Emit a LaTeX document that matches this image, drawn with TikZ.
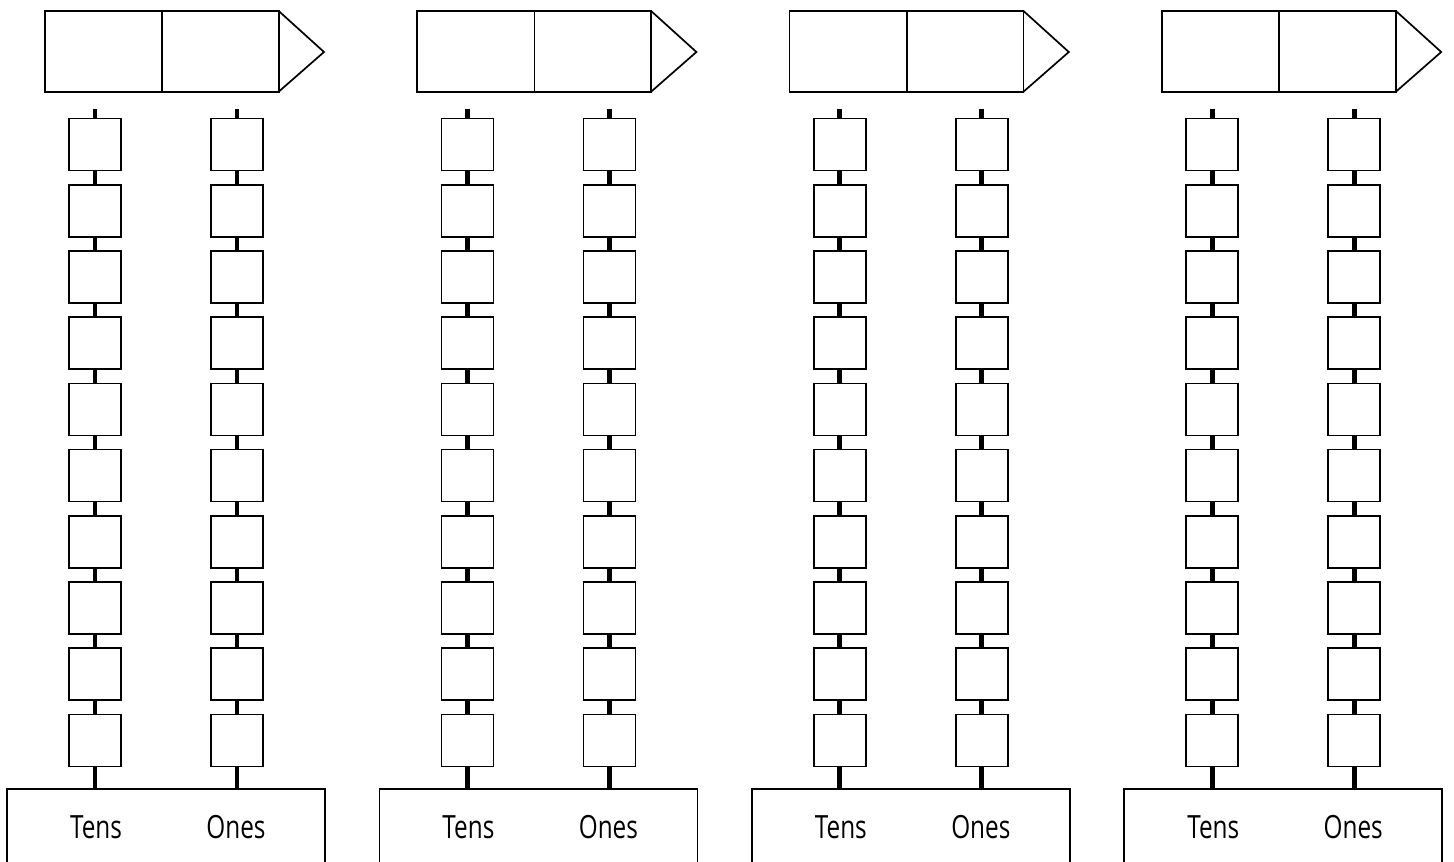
\documentclass[tikz,border=0pt]{standalone}
\usepackage{fontspec}
\setmainfont{Open Sans}[FakeStretch=0.76]
\begin{document}
\begin{tikzpicture}[x=0.5pt,y=-0.5pt,
		bead/.style={draw,fill=white,line width=0.75pt,minimum size=26pt,inner sep=0pt},
		rod/.style={line width=2.35pt},
		frame/.style={line width=0.85pt,line join=miter},
		label/.style={anchor=base,inner sep=0pt,font=\fontsize{16}{18}\selectfont}]
	\useasboundingbox (0,0) rectangle (1454,861);
	\clip (0,0) rectangle (1454,861);
	\foreach \k in {0,...,3}{
		\pgfmathsetmacro{\t}{95+372.4*\k}
		\pgfmathsetmacro{\o}{\t+142}
		% number box with arrow
		\draw[frame] (\t-50.3,11) rectangle (\t+183.7,91.7);
		\draw[frame] (\t+67,11) -- (\t+67,91.7);
		\draw[frame] (\t+183.7,11) -- (\t+229,52) -- (\t+183.7,91.7);
		% base
		\draw[line width=0.9pt] (\t-88,900) -- (\t-88,789) -- (\t+230,789) -- (\t+230,900);
		\node[label] (tens\k) at (\t+1,838) {Tens};
		\node[label] (ones\k) at (\o-1,838) {Ones};
		% rods
		\coordinate (tt\k) at (\t,108.7);
		\coordinate (tb\k) at (\t,789);
		\coordinate (ot\k) at (\o,108.7);
		\coordinate (ob\k) at (\o,789);
		\draw[rod] (tt\k) -- (tb\k);
		\draw[rod] (ot\k) -- (ob\k);
		% beads
		\foreach \i in {0,...,9}{
			\node[bead] (t\k-\i) at (\t,144.6+66.2*\i) {};
			\node[bead] (o\k-\i) at (\o,144.6+66.2*\i) {};
		}
	}
\end{tikzpicture}
\end{document}
